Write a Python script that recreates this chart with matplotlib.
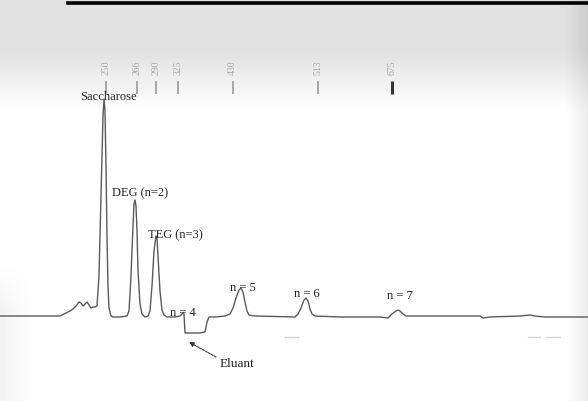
import numpy as np
import matplotlib
matplotlib.use('Agg')
import matplotlib.pyplot as plt

# chromatogram trace: retention position, detector signal
trace_t = [0, 60, 62, 66, 70, 73, 76, 79, 81, 83, 85, 87, 89, 91, 93, 95, 97,
           99, 101, 103, 104, 105, 106, 107, 108, 109, 111, 113, 120, 127,
           129, 131, 133, 134, 135, 136, 137, 138, 140, 142, 145, 148,
           150, 152, 154, 156, 157, 158, 160, 162, 164, 167, 175, 180,
           183, 184, 185, 200, 205, 207, 209, 215, 225,
           230, 233, 236, 239, 241, 243, 245, 247, 249, 255, 295,
           298, 301, 304, 306, 308, 310, 312, 315, 340, 380,
           388, 392, 396, 398, 400, 403, 406, 480, 483, 490, 520, 530, 535, 545, 588]
trace_s = [0, 0, 1, 3, 5, 7, 10, 14, 13, 10, 12, 14, 11, 8, 9, 9, 10,
           40, 120, 200, 217, 205, 150, 80, 30, 8, 0, -1, -1, 0,
           5, 40, 90, 112, 116, 110, 85, 45, 12, 2, -1, 0,
           5, 30, 65, 80, 78, 60, 25, 6, 1, -1, -1, 0,
           3, 2, -17, -17, -16, -6, -1, -1, 0,
           2, 8, 18, 26, 28, 24, 14, 5, 1, 0, -1,
           2, 8, 16, 18, 15, 7, 2, 0, -1, -1,
           -2, 2, 5, 6, 5, 2, 0, 0, -2, -1, 0, 1, 0, -1, -1]

# calibration markers along the top
marker_t = [105.7, 137, 155.7, 178, 232.7, 317.7, 392]
marker_labels = ['250', '266', '290', '325', '430', '513', '675']

# peak labels: text, position, signal level
peak_names = ['Saccharose', 'DEG (n=2)', 'TEG (n=3)', 'n = 4', 'n = 5', 'n = 6', 'n = 7']
peak_text_t = [80, 112, 148, 170, 230, 294, 387]
peak_text_s = [219, 123, 81, 3, 28, 22, 20]

BASE = 316  # pixel row of the baseline

fig = plt.figure(figsize=(5.88, 4.01), dpi=100)
ax = fig.add_axes([0, 0, 1, 1])
ax.set_xlim(0, 588)
ax.set_ylim(BASE - 401, BASE)
ax.axis('off')

# scanned-paper background: grey top band, shaded right edge
h, w = 401, 588
yy, xx = np.mgrid[0:h, 0:w]
bg = 1.0 - 0.12 * np.clip((110 - yy) / 60.0, 0, 1)
bg -= 0.08 * np.clip((xx - 565) / 23.0, 0, 1)
bg -= 0.05 * np.clip((35 - xx) / 35.0, 0, 1) * np.clip((yy - 260) / 50.0, 0, 1)
ax.imshow(bg, cmap='gray', vmin=0, vmax=1, extent=[0, 588, BASE - 401, BASE],
          aspect='auto', zorder=0)

# heavy rule at the top of the page
ax.plot([68, 588], [BASE - 3, BASE - 3], color='black', lw=2.6, zorder=2)

ax.plot(trace_t, trace_s, color='#5a5a5a', lw=1.0, zorder=3)

for i, (t, lab) in enumerate(zip(marker_t, marker_labels)):
    dark = i == len(marker_t) - 1
    ax.vlines(t, BASE - 94, BASE - 81, color='#333333' if dark else '#9a9a9a',
              lw=2.2 if dark else 1.2, zorder=3)
    ax.text(t, BASE - 75, lab, rotation=90, ha='center', va='bottom',
            fontsize=7, color='#a8a8a8', family='Liberation Serif', zorder=3)

for name, t, s in zip(peak_names, peak_text_t, peak_text_s):
    ax.text(t, s, name, ha='left', va='center', fontsize=9,
            family='Liberation Serif', color='#222222', zorder=4)

ax.text(220, BASE - 364, 'Eluant', ha='left', va='center', fontsize=9.5,
        family='Liberation Serif', color='#222222', zorder=4)
ax.annotate('', xy=(189, BASE - 342), xytext=(216, BASE - 357),
            arrowprops=dict(arrowstyle='-|>', color='#333333', lw=0.8,
                            linestyle=(0, (2, 1)), shrinkA=0, shrinkB=0,
                            mutation_scale=7))

# faint scan specks under the baseline
ax.plot([285, 298], [BASE - 337, BASE - 337], color='#d0d0d0', lw=1)
ax.plot([528, 540], [BASE - 337, BASE - 337], color='#d5d5d5', lw=1)
ax.plot([546, 560], [BASE - 337, BASE - 337], color='#d5d5d5', lw=1)

fig.savefig('out.png', dpi=100)
